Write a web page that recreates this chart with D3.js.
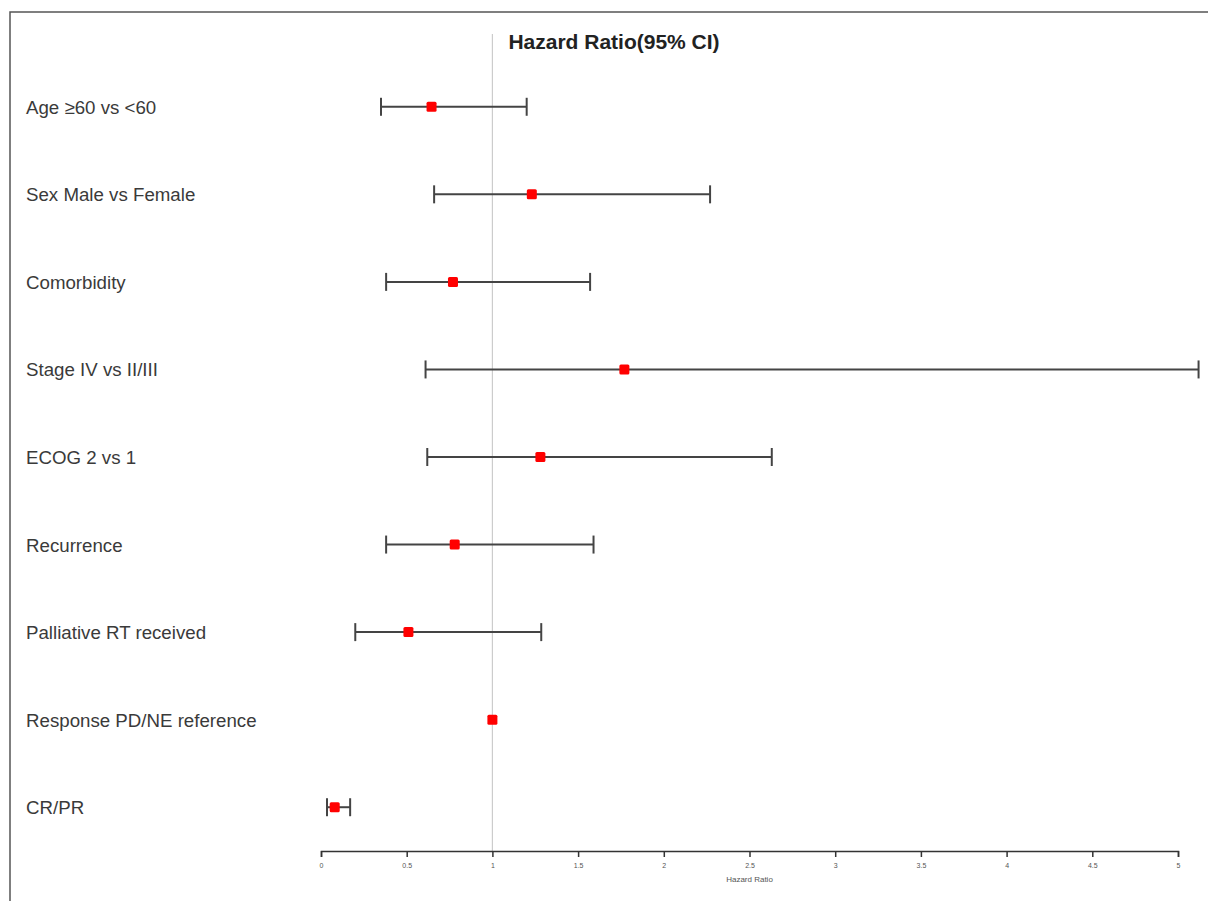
<!DOCTYPE html>
<html>
<style>
    body { margin: 0; background: #fff; }
    text { font-family: "Liberation Sans", Arial, sans-serif; }
    .row-label { font-size: 18.7px; fill: #3a3a3a; }
    .title { font-size: 21px; font-weight: bold; fill: #222; }
    .axis text { font-size: 7px; fill: #555; }
    .axis path, .axis line { stroke: #333; stroke-width: 1.5px; }
</style>
<script src="https://d3js.org/d3.v7.min.js"></script>
<body>
<svg width="1208" height="901"></svg>
<script>
    const labels = ["Age \u226560 vs <60", "Sex Male vs Female", "Comorbidity", "Stage IV vs II/III",
        "ECOG 2 vs 1", "Recurrence", "Palliative RT received", "Response PD/NE reference", "CR/PR"];
    const hr = [0.645, 1.23, 0.77, 1.77, 1.28, 0.78, 0.51, 1.0, 0.08];
    const lower = [0.35, 0.66, 0.38, 0.61, 0.62, 0.38, 0.20, null, 0.035];
    const upper = [1.20, 2.27, 1.57, 5.12, 2.63, 1.59, 1.285, null, 0.17];
    const ticks = [0, 0.5, 1, 1.5, 2, 2.5, 3, 3.5, 4, 4.5, 5];

    const svg = d3.select("svg");

    // frame
    svg.append("rect")
        .attr("x", 10).attr("y", 12)
        .attr("width", 1220).attr("height", 920)
        .attr("fill", "none").attr("stroke", "#555").attr("stroke-width", 1.5);

    const x = d3.scaleLinear().domain([0, 5]).range([321, 1178]);
    const y = d3.scaleBand().domain(labels).range([63, 851]);

    const rows = labels.map((l, i) => ({label: l, hr: hr[i], lo: lower[i], hi: upper[i]}));

    svg.append("text").attr("class", "title")
        .attr("x", 614).attr("y", 49).attr("text-anchor", "middle")
        .text("Hazard Ratio(95% CI)");

    // reference line at HR = 1
    svg.append("line")
        .attr("x1", x(1)).attr("x2", x(1))
        .attr("y1", 34).attr("y2", 851)
        .attr("stroke", "#ccc").attr("stroke-width", 1.2);

    svg.selectAll(".row-label").data(rows).join("text")
        .attr("class", "row-label")
        .attr("x", 26)
        .attr("y", d => y(d.label) + y.bandwidth() / 2 + 7)
        .text(d => d.label);

    const ci = rows.filter(d => d.lo !== null);
    const g = svg.append("g").attr("stroke", "#444").attr("stroke-width", 2);
    g.selectAll(".ci").data(ci).join("line")
        .attr("x1", d => x(d.lo)).attr("x2", d => x(d.hi))
        .attr("y1", d => y(d.label) + y.bandwidth() / 2)
        .attr("y2", d => y(d.label) + y.bandwidth() / 2);
    g.selectAll(".cap-lo").data(ci).join("line")
        .attr("x1", d => x(d.lo)).attr("x2", d => x(d.lo))
        .attr("y1", d => y(d.label) + y.bandwidth() / 2 - 9)
        .attr("y2", d => y(d.label) + y.bandwidth() / 2 + 9);
    g.selectAll(".cap-hi").data(ci).join("line")
        .attr("x1", d => x(d.hi)).attr("x2", d => x(d.hi))
        .attr("y1", d => y(d.label) + y.bandwidth() / 2 - 9)
        .attr("y2", d => y(d.label) + y.bandwidth() / 2 + 9);

    svg.selectAll(".pt").data(rows).join("rect")
        .attr("x", d => x(d.hr) - 5)
        .attr("y", d => y(d.label) + y.bandwidth() / 2 - 5)
        .attr("width", 10).attr("height", 10).attr("rx", 1.5)
        .attr("fill", "#f00");

    const axis = svg.append("g").attr("class", "axis")
        .attr("transform", "translate(0,851)")
        .call(d3.axisBottom(x).tickValues(ticks).tickSize(6).tickSizeOuter(6).tickFormat(d3.format("")));
    axis.selectAll("text").attr("dy", "1.1em");

    svg.append("text")
        .attr("x", x(2.5)).attr("y", 882)
        .attr("text-anchor", "middle")
        .attr("font-size", 8).attr("fill", "#555")
        .text("Hazard Ratio");
</script>
</body>
</html>
